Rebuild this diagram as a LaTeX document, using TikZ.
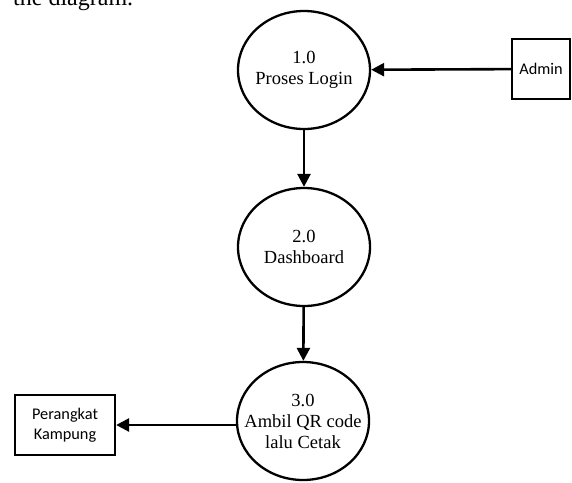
\documentclass[tikz,border=0pt]{standalone}
\usepackage{fontspec}
\setmainfont{Liberation Serif}
\newfontfamily\boxfont{Carlito}
\usetikzlibrary{arrows.meta,shapes.geometric}
\begin{document}
\begin{tikzpicture}[x=1pt,y=-1pt,
  process/.style={draw, line width=2.3pt, ellipse, minimum width=132pt, minimum height=118pt,
    inner sep=0pt, label={[align=center, font=\fontsize{18.5}{21}\selectfont]center:#1}},
  entity/.style={draw, line width=2.3pt, rectangle, inner sep=0pt, align=center,
    font=\boxfont\fontsize{16.3}{20}\selectfont},
  flow/.style={line width=2.6pt, -{Triangle[length=13pt,width=13pt]}}]
  \useasboundingbox (0,0) rectangle (572,482);
  % trailing line of the surrounding text
  \node[anchor=base west, inner sep=0pt, font=\fontsize{24}{28}\selectfont] (caption) at (13,5) {the diagram.};
  % processes
  \node[process={1.0\\Proses Login}] (p1) at (304,70) {};
  \node[process={2.0\\Dashboard}] (p2) at (304,247) {};
  \node[process={3.0\\Ambil QR code\\lalu Cetak}] (p3) at (303,421) {};
  % external entities
  \node[entity, minimum width=58pt, minimum height=60pt] (admin) at (541,69) {Admin};
  \node[entity, minimum width=100pt, minimum height=60pt] (perangkat) at (65,425) {Perangkat\\Kampung};
  % data flows
  \draw[flow] (admin) -- (p1);
  \draw[flow] (p1) -- (p2);
  \draw[flow] (p2) -- (p3);
  \draw[flow] (p3.west |- perangkat.east) -- (perangkat.east);
\end{tikzpicture}
\end{document}
